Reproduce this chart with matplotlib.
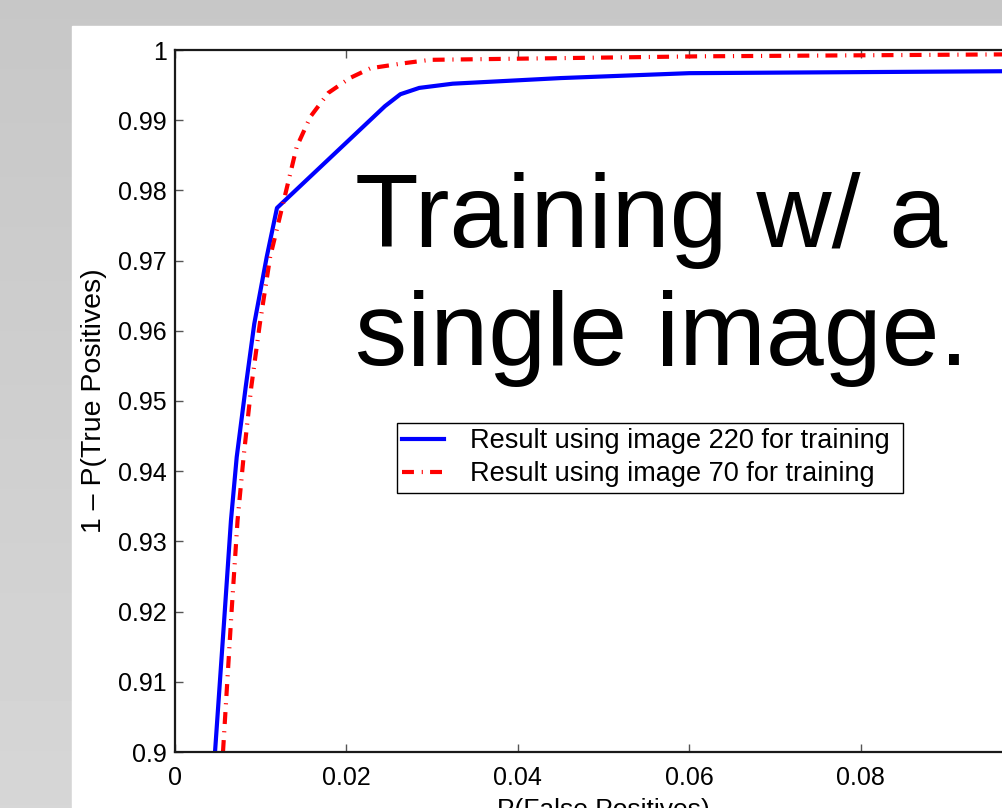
import numpy as np
import matplotlib
matplotlib.use('Agg')
import matplotlib.pyplot as plt
from matplotlib.patches import Rectangle

plt.rcParams['font.family'] = ['Liberation Sans', 'DejaVu Sans']
plt.rcParams['lines.scale_dashes'] = False

# ROC style data
fp_220 = [0.00467, 0.00575, 0.00653, 0.0072, 0.00825, 0.00925, 0.0107, 0.0119,
          0.0245, 0.0263, 0.0285, 0.0324, 0.0450, 0.0600, 0.1000]
tp_220 = [0.900, 0.919, 0.933, 0.942, 0.952, 0.961, 0.9705, 0.9775,
          0.9920, 0.9937, 0.9946, 0.9952, 0.9960, 0.9967, 0.9970]

fp_70 = [0.0056, 0.0066, 0.0073, 0.0080, 0.0089, 0.0099, 0.0111, 0.0128,
         0.0142, 0.0158, 0.0179, 0.0204, 0.0228, 0.0266, 0.0298, 0.0613, 0.1000]
tp_70 = [0.900, 0.920, 0.933, 0.942, 0.952, 0.961, 0.9705, 0.9791,
         0.9862, 0.9905, 0.9939, 0.9960, 0.9974, 0.9981, 0.9986, 0.9991, 0.9994]

xticks = [0, 0.02, 0.04, 0.06, 0.08, 0.1]
xtick_labels = ['0', '0.02', '0.04', '0.06', '0.08', '']
yticks = [0.9, 0.91, 0.92, 0.93, 0.94, 0.95, 0.96, 0.97, 0.98, 0.99, 1.0]
ytick_labels = ['0.9', '0.91', '0.92', '0.93', '0.94', '0.95', '0.96', '0.97', '0.98', '0.99', '1']

W, H = 1003, 808
fig = plt.figure(figsize=(W / 100, H / 100), dpi=100)

# slide background: grey gradient with a white panel
bg = fig.add_axes([0, 0, 1, 1], zorder=-10)
grad = np.linspace(0.78, 0.84, 256).reshape(-1, 1)
bg.imshow(grad, cmap='gray', vmin=0, vmax=1, aspect='auto', extent=[0, W, H, 0])
bg.add_patch(Rectangle((72, 26), W, H, color='white'))
bg.set_xlim(0, W)
bg.set_ylim(H, 0)
bg.axis('off')

# axes run from x=175 to x=1032 px (right part cut off), y=50 to 752 px
ax = fig.add_axes([175 / W, (H - 752) / H, 857 / W, 702 / H])
ax.set_facecolor('white')

ax.plot(fp_220, tp_220, color='#0000ff', lw=3.0,
        label='Result using image 220 for training')
ax.plot(fp_70, tp_70, color='#ff0000', lw=3.0, dash_capstyle='butt',
        linestyle=(0, (8.6, 5.6, 0.8, 5.2)),
        label='Result using image 70 for training')

ax.set_xlim(0, 0.1)
ax.set_ylim(0.9, 1.0)
ax.set_xticks(xticks)
ax.set_xticklabels(xtick_labels)
ax.set_yticks(yticks)
ax.set_yticklabels(ytick_labels)
ax.tick_params(axis='both', direction='in', length=6, width=1, color='#555555',
               labelsize=18, top=True, right=True)
ax.tick_params(axis='x', pad=10)
ax.tick_params(axis='y', pad=6)
for s in ax.spines.values():
    s.set_linewidth(1.6)
    s.set_color('#1a1a1a')

ax.set_xlabel('P(False Positives)', fontsize=19, labelpad=6)
ax.set_ylabel('1 \u2013 P(True Positives)', fontsize=20.5, labelpad=8)

# legend box spans x 397..903, top at y 423 (pixels)
leg = ax.legend(loc='upper left',
                bbox_to_anchor=(397 / W, 1 - 423 / H - 0.2, 506 / W, 0.2),
                bbox_transform=fig.transFigure, mode='expand', fontsize=19.5,
                fancybox=False, framealpha=1, edgecolor='black',
                handlelength=1.55, borderpad=0.2, labelspacing=0.26,
                handletextpad=0.95, borderaxespad=0)
leg.get_frame().set_linewidth(1.0)

fig.text(355 / W, 1 - 247 / H, 'Training w/ a', fontsize=75, va='baseline', ha='left')
fig.text(355 / W, 1 - 365 / H, 'single image.', fontsize=75, va='baseline', ha='left')

fig.savefig('out.png', dpi=100)
